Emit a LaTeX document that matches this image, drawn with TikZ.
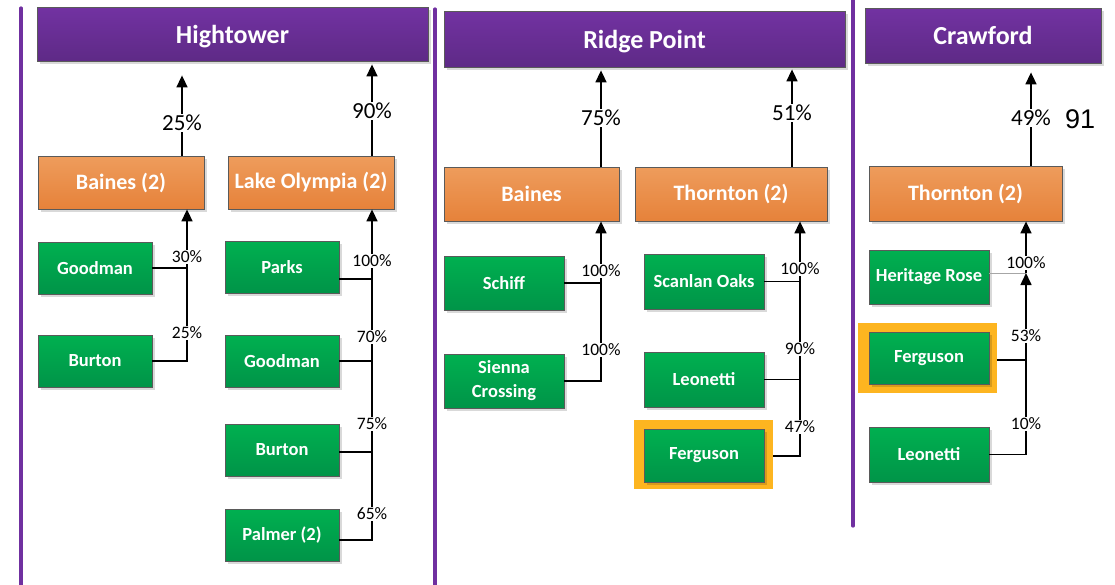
\documentclass[tikz,border=0pt]{standalone}
\usepackage{fontspec}
\setmainfont{Carlito}
\newfontfamily\arialfont{Liberation Sans}
\usetikzlibrary{arrows.meta,shadows}
\definecolor{hdrtop}{HTML}{7232A2}
\definecolor{hdrbot}{HTML}{5E2A86}
\definecolor{orgtop}{HTML}{EE9C5C}
\definecolor{orgbot}{HTML}{E6823A}
\definecolor{grntop}{HTML}{00B050}
\definecolor{grnbot}{HTML}{009448}
\definecolor{framegray}{HTML}{5A5A5A}
\definecolor{sepline}{HTML}{7030A0}
\definecolor{hilite}{HTML}{FDB520}
\begin{document}
\begin{tikzpicture}[x=1pt,y=-1pt,
  box/.style={draw=framegray, line width=0.8pt, text=white, inner sep=0pt,
    drop shadow={shadow xshift=2.5pt,shadow yshift=-2.5pt,fill=black,opacity=0.15}},
  header/.style={box, top color=hdrtop, bottom color=hdrbot, text depth=0pt,
    font=\fontsize{26}{30}\selectfont\bfseries},
  entity/.style={box, top color=orgtop, bottom color=orgbot,
    font=\fontsize{22}{26}\selectfont\bfseries},
  member/.style={box, top color=grntop, bottom color=grnbot, align=center,
    minimum width=114pt, minimum height=52pt,
    font=\fontsize{18.5}{24}\selectfont\bfseries},
  hiliteframe/.style={fill=hilite, inner sep=0pt},
  link/.style={line width=1.6pt},
  arr/.style={link, -{Triangle[length=12pt,width=11pt]}},
  share/.style={fill=white, inner sep=1pt, font=\fontsize{23}{26}\selectfont},
  pct/.style={fill=white, inner sep=0.5pt, font=\fontsize{17.5}{20}\selectfont},
  divider/.style={draw=sepline, line width=3.2pt, line cap=round}
]
\useasboundingbox (0,0) rectangle (1115,584);

% column dividers
\draw[divider] (21,8) -- (21,590);
\draw[divider] (435,9) -- (435,590);
\draw[divider] (853,-5) -- (853,526);

% ---------------- Hightower ----------------
\node[header, minimum width=391pt, minimum height=54pt] (Hightower) at (232.5,34) {Hightower};
\node[entity, minimum width=166pt, minimum height=53pt] (HBaines) at (121,182.5) {Baines (2)};
\node[entity, minimum width=166pt, minimum height=53pt] (HLake) at (311,182.5) {Lake Olympia (2)};
\node[member] (HGoodman) at (95,268) {Goodman};
\node[member] (HBurton) at (95,361) {Burton};
\node[member] (LParks) at (282,267) {Parks};
\node[member] (LGoodman) at (282,361) {Goodman};
\node[member] (LBurton) at (282,450) {Burton};
\node[member] (LPalmer) at (282,535) {Palmer (2)};

\coordinate (hbA) at (182,0);
\coordinate (hbB) at (372,0);
\coordinate (busA) at (187,0);
\coordinate (busB) at (372,0);

\draw[arr, shorten >=14pt] (HBaines.north -| hbA) -- (Hightower.south -| hbA);
\draw[arr, shorten >=3pt] (HLake.north -| hbB) -- (Hightower.south -| hbB);

\draw[link] (HGoodman.east) -- (HGoodman.east -| busA);
\draw[arr] (HBurton.east) -| (HBaines.south -| busA);

\coordinate (pk) at ([yshift=-12pt]LParks.east);
\coordinate (pm) at ([yshift=-5pt]LPalmer.east);
\draw[link] (pk) -- (pk -| busB);
\draw[link] (LGoodman.east) -- (LGoodman.east -| busB);
\draw[link] ([yshift=-2pt]LBurton.east) -- ([yshift=-2pt]LBurton.east -| busB);
\draw[arr] (pm) -| (HLake.south -| busB);

\node[share] (p1) at (182,123) {25\%};
\node[share] (p2) at (372,111) {90\%};
\node[pct] (p3) at (187,257) {30\%};
\node[pct] (p4) at (187,333) {25\%};
\node[pct] (p5) at (372,261) {100\%};
\node[pct] (p6) at (372,337) {70\%};
\node[pct] (p7) at (372,424) {75\%};
\node[pct] (p8) at (372,514) {65\%};

% ---------------- Ridge Point ----------------
\node[header, minimum width=401pt, minimum height=56pt] (Ridge) at (644.5,39) {Ridge Point};
\node[entity, minimum width=175pt, minimum height=54pt] (RBaines) at (531.5,194) {Baines};
\node[entity, minimum width=192pt, minimum height=54pt] (RThornton) at (731,194) {Thornton (2)};
\node[member, minimum width=120pt, minimum height=54pt] (RSchiff) at (504,283) {Schiff};
\node[member, minimum width=120pt, minimum height=54pt] (RSienna) at (504,381) {Sienna\\Crossing};
\node[member, minimum width=120pt, minimum height=55pt] (TScanlan) at (704,281.5) {Scanlan Oaks};
\node[member, minimum width=120pt, minimum height=55pt] (TLeonetti) at (704,379.5) {Leonetti};
\node[hiliteframe, minimum width=139pt, minimum height=69pt] (THilite) at (703.5,454.5) {};
\node[member, minimum width=120pt, minimum height=53pt] (TFerguson) at (704,455.5) {Ferguson};

\coordinate (rbA) at (601,0);
\coordinate (rbB) at (792,0);
\coordinate (busC) at (601,0);
\coordinate (busD) at (800,0);

\draw[arr, shorten >=3pt] (RBaines.north -| rbA) -- (Ridge.south -| rbA);
\draw[arr, shorten >=2pt] (RThornton.north -| rbB) -- (Ridge.south -| rbB);

\draw[link] (RSchiff.east) -- (RSchiff.east -| busC);
\draw[arr] (RSienna.east) -| (RBaines.south -| busC);

\draw[link] (TScanlan.east) -- (TScanlan.east -| busD);
\draw[link] (TLeonetti.east) -- (TLeonetti.east -| busD);
\draw[arr] ([yshift=-1.5pt]THilite.east) -| (RThornton.south -| busD);

\node[share] (q1) at (601,118) {75\%};
\node[share] (q2) at (792,113) {51\%};
\node[pct] (q3) at (601,271) {100\%};
\node[pct] (q4) at (601,350) {100\%};
\node[pct] (q5) at (800,269) {100\%};
\node[pct] (q6) at (800,349) {90\%};
\node[pct] (q7) at (800,427) {47\%};

% ---------------- Crawford ----------------
\node[header, minimum width=236pt, minimum height=55pt] (Crawford) at (983,35.5) {Crawford};
\node[entity, minimum width=193pt, minimum height=55pt] (CThornton) at (965.5,193.5) {Thornton (2)};
\node[member, minimum width=120pt, minimum height=54pt] (CHeritage) at (929,277) {Heritage Rose};
\node[hiliteframe, minimum width=139pt, minimum height=70pt] (CHilite) at (927.5,358) {};
\node[member, minimum width=120pt, minimum height=52pt] (CFerguson) at (929,358) {Ferguson};
\node[member, minimum width=120pt, minimum height=55pt] (CLeonetti) at (929,454.5) {Leonetti};

\coordinate (cbA) at (1031,0);
\coordinate (cj) at (1026,273);

\draw[arr, shorten >=9pt] (CThornton.north -| cbA) -- (Crawford.south -| cbA);
\draw[link, draw=gray!70, line width=0.9pt] (CHeritage.east |- cj) -- (cj);
\draw[arr] (cj) -- (CThornton.south -| cj);
\draw[link] ([yshift=-2pt]CHilite.east) -- ([yshift=-2pt]CHilite.east -| cj);
\draw[arr] (CLeonetti.east) -| (cj);

\node[share] (r1) at (1031,118) {49\%};
\node[font=\arialfont\fontsize{27}{30}\selectfont, inner sep=0pt] (r0) at (1080,119) {91};
\node[pct] (r2) at (1026,263) {100\%};
\node[pct] (r3) at (1026,336) {53\%};
\node[pct] (r4) at (1026,424) {10\%};
\end{tikzpicture}
\end{document}
